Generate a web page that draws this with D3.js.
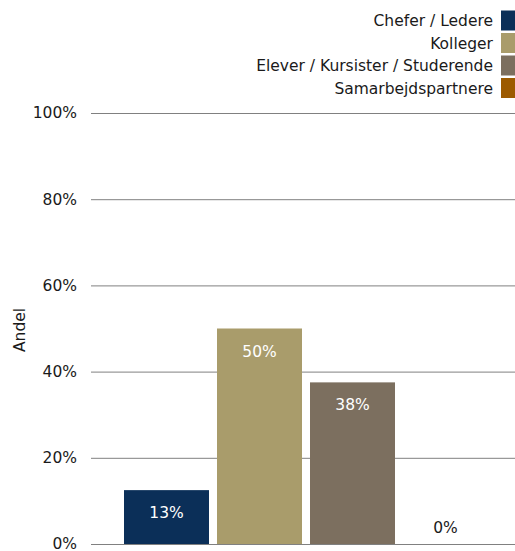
<!DOCTYPE html>
<html>
<head>
<meta charset="utf-8">
<script src="https://cdn.jsdelivr.net/npm/d3@7"></script>
<style>
  body { margin: 0; background: #fff; }
  text { font-family: "DejaVu Sans", sans-serif; }
</style>
</head>
<body>
<svg id="chart" width="515" height="551"></svg>
<script>
const categories = ["Chefer / Ledere", "Kolleger", "Elever / Kursister / Studerende", "Samarbejdspartnere"];
const values = [0.125, 0.5, 0.375, 0];
const labels = ["13%", "50%", "38%", "0%"];
const colors = ["#0b2f58", "#a99c6b", "#7c6f5f", "#9c5a00"];
const yTicks = [0, 0.2, 0.4, 0.6, 0.8, 1];

const svg = d3.select("#chart");
const fs = 15.5;

const x = d3.scaleBand()
    .domain(categories)
    .range([120, 492])
    .paddingInner(0.086)
    .paddingOuter(0.043);

const y = d3.scaleLinear()
    .domain([0, 1])
    .range([544, 113]);

// grid + tick labels
const yAxis = svg.append("g")
    .attr("transform", "translate(91,0)")
    .call(d3.axisLeft(y).tickValues(yTicks).tickFormat(d3.format(".0%")).tickSize(-424).tickPadding(14));
yAxis.select(".domain").remove();
yAxis.selectAll(".tick line").attr("stroke", "#808080");
yAxis.selectAll(".tick text").attr("font-size", fs).attr("fill", "#1a1a1a").attr("font-family", "DejaVu Sans");

svg.append("text")
    .attr("transform", "translate(25,330) rotate(-90)")
    .attr("text-anchor", "middle")
    .attr("font-size", fs)
    .attr("fill", "#1a1a1a")
    .text("Andel");

svg.selectAll("rect.bar")
    .data(categories)
    .enter()
    .append("rect")
    .attr("class", "bar")
    .attr("x", d => x(d))
    .attr("y", (d, i) => y(values[i]))
    .attr("width", x.bandwidth())
    .attr("height", (d, i) => y(0) - y(values[i]))
    .attr("fill", (d, i) => colors[i]);

svg.selectAll("text.lbl")
    .data(categories)
    .enter()
    .append("text")
    .attr("class", "lbl")
    .attr("x", d => x(d) + x.bandwidth() / 2)
    .attr("y", (d, i) => values[i] > 0 ? y(values[i]) + 28 : y(0) - 11)
    .attr("text-anchor", "middle")
    .attr("font-size", fs)
    .attr("fill", (d, i) => values[i] > 0 ? "#ffffff" : "#1a1a1a")
    .text((d, i) => labels[i]);

// legend
const legend = svg.append("g");
categories.forEach((c, i) => {
    const cy = 20.5 + i * 22.5;
    legend.append("rect")
        .attr("x", 501)
        .attr("y", cy - 10)
        .attr("width", 14)
        .attr("height", 20)
        .attr("fill", colors[i]);
    legend.append("text")
        .attr("x", 493)
        .attr("y", cy + 5.5)
        .attr("text-anchor", "end")
        .attr("font-size", fs)
        .attr("fill", "#1a1a1a")
        .text(c);
});
</script>
</body>
</html>
